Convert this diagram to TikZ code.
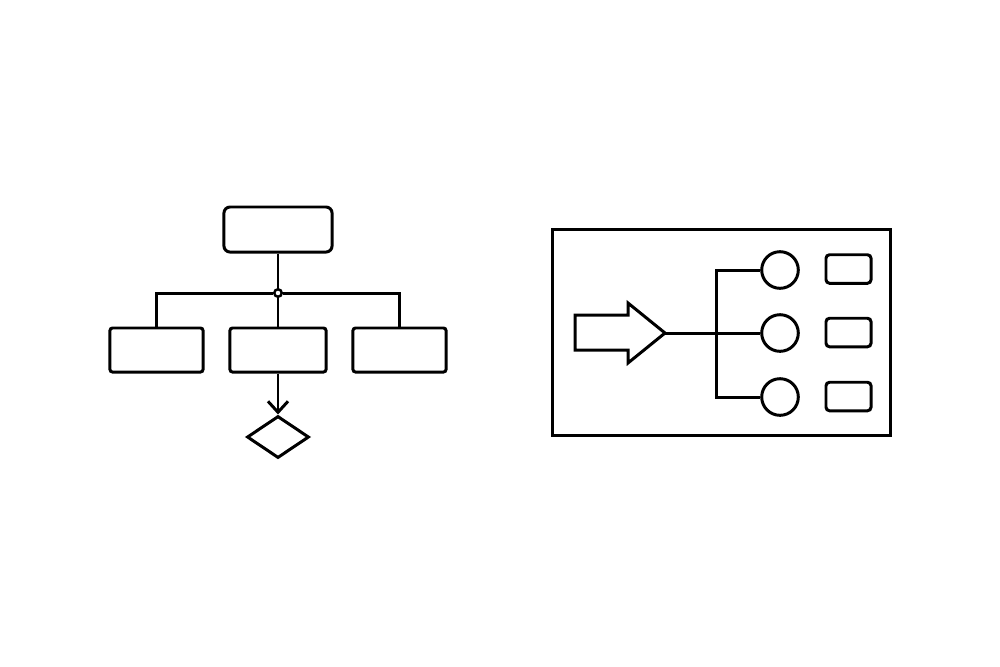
\documentclass[tikz,border=0pt]{standalone}
\usetikzlibrary{shapes.geometric,arrows.meta}
\begin{document}
\begin{tikzpicture}[x=0.01cm,y=-0.01cm,line width=0.85pt,
  topbox/.style={draw,rectangle,rounded corners=0.6mm,inner sep=0pt,minimum width=1.08cm,minimum height=0.45cm},
  midbox/.style={draw,rectangle,rounded corners=0.25mm,inner sep=0pt,minimum height=0.44cm},
  smallbox/.style={draw,rectangle,rounded corners=0.35mm,inner sep=0pt,minimum width=0.45cm,minimum height=0.285cm},
  ring/.style={draw,circle,inner sep=0pt,minimum size=0.366cm},
  decision/.style={draw,diamond,inner sep=0pt,minimum width=0.62cm,minimum height=0.42cm,aspect=1.476},
  barb/.style={-{Straight Barb[length=0.11cm,width=0.2cm]}}]
\fill[white] (0,0) rectangle (1000,666);
\useasboundingbox (0,0) rectangle (1000,666);
% left diagram
\node[topbox] (top) at (278,229.5) {};
\node[midbox,minimum width=0.93cm] (left) at (156.5,350) {};
\node[midbox,minimum width=0.96cm] (mid) at (278,350) {};
\node[midbox,minimum width=0.93cm] (right) at (399.5,350) {};
\node[decision] (dia) at (278,437) {};
\node[draw,circle,fill=white,inner sep=0pt,minimum size=0.075cm,line width=0.7pt] (jn) at (278,293) {};
\draw (top) -- (jn);
\draw (jn) -- (mid);
\draw (jn.west) -| (left);
\draw (jn.east) -| (right);
\draw[barb] (mid) -- (dia);
% right diagram
\node[draw,rectangle,inner sep=0pt,minimum width=3.37cm,minimum height=2.05cm] (frame) at (721.5,332.5) {};
\draw[line join=miter] (575,315) -- (628,315) -- (628,303) -- (665,333) -- (628,363) -- (628,350) -- (575,350) -- cycle;
\coordinate (tip) at (665,333);
\coordinate (j) at (716,333);
\node[ring] (c1) at (780,270) {};
\node[ring] (c2) at (780,333) {};
\node[ring] (c3) at (780,397) {};
\node[smallbox] (r1) at (848.5,269) {};
\node[smallbox] (r2) at (848.5,332.5) {};
\node[smallbox] (r3) at (848.5,396.5) {};
\draw (tip) -- (c2.west);
\draw (c1.west) -| (j) |- (c3.west);
\end{tikzpicture}
\end{document}
